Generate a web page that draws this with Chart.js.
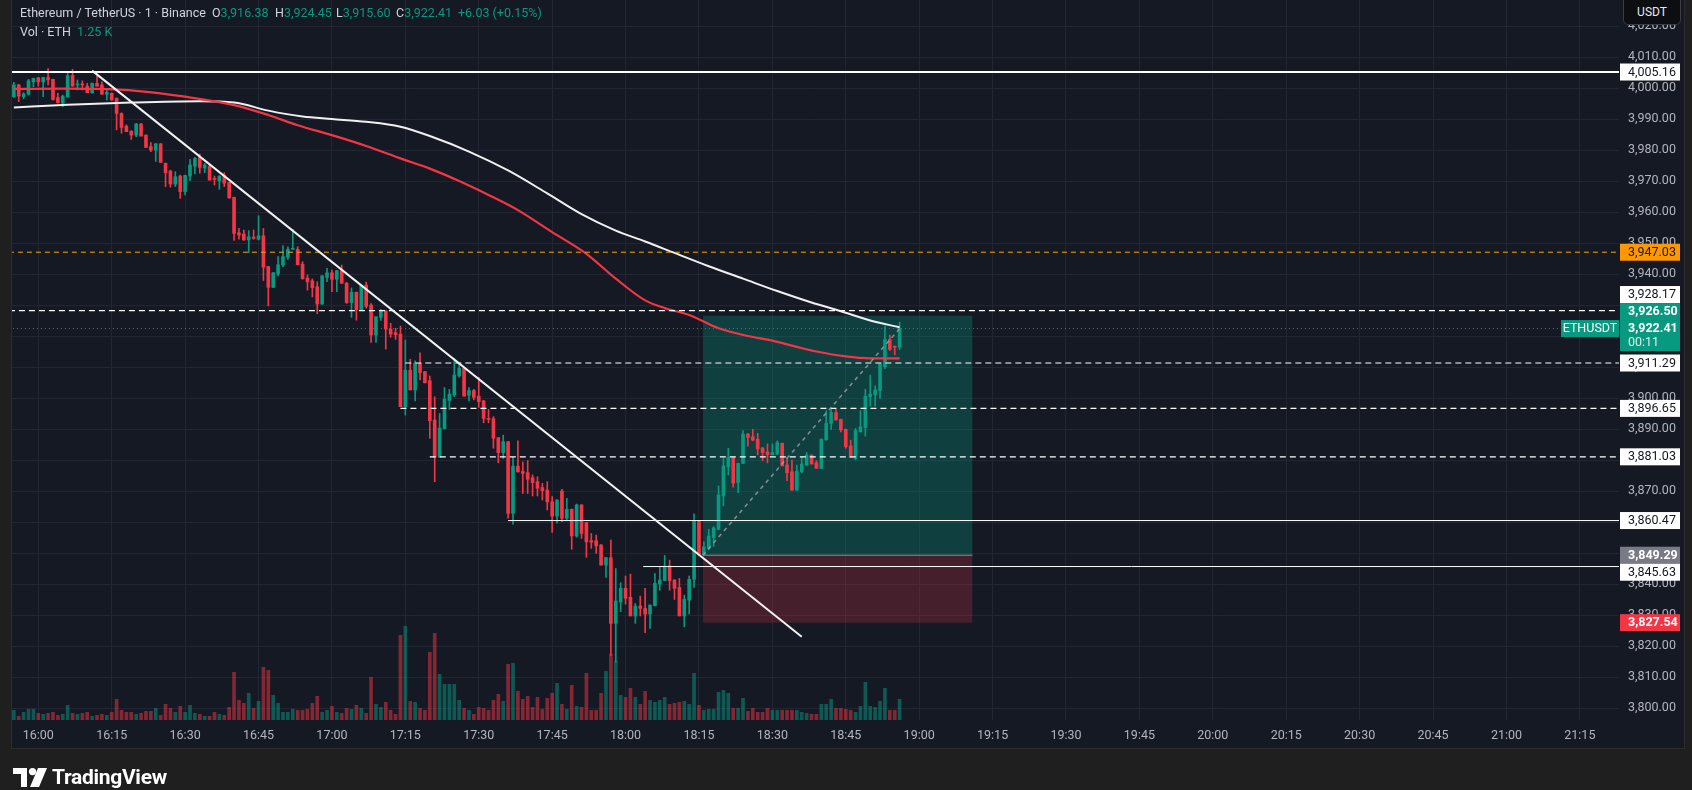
<!DOCTYPE html>
<html>
<head>
<meta charset="utf-8">
<title>ETHUSDT 1m</title>
<script src="https://cdn.jsdelivr.net/npm/chart.js@4.4.1/dist/chart.umd.min.js"></script>
<style>
  html, body { margin: 0; padding: 0; width: 1692px; height: 790px; overflow: hidden; background: #1f1f1f; font-family: Roboto, "Noto Sans", sans-serif; }
  #panel { position: absolute; left: 11px; top: 0; width: 1672px; height: 748px; background: #151924; border-left: 1px solid #2c2c2c; border-right: 1px solid #2c2c2c; border-bottom: 1px solid #2c2c2c; }
  #chart { position: absolute; left: 0; top: 0; }
  .hdr { position: absolute; font-size: 12.5px; color: #d1d4dc; white-space: nowrap; line-height: 16px; }
  .hdr b { font-weight: normal; color: #089981; }
  #usdt { position: absolute; left: 1623px; top: -1px; width: 56px; height: 24px; border: 1px solid #3a3d45; border-radius: 0 0 5px 5px; background: #0d0e11; color: #e8e9ed; font-size: 12px; line-height: 24px; text-align: center; }
  #logo { position: absolute; left: 13px; top: 765px; height: 24px; display: flex; align-items: center; gap: 5px; color: #fff; font-size: 21px; font-weight: bold; letter-spacing: -0.3px; }
</style>
</head>
<body>
<div id="panel"></div>
<canvas id="chart" width="1692" height="790"></canvas>
<div class="hdr" style="left:20px;top:5px">Ethereum / TetherUS · 1 · Binance</div>
<div class="hdr" id="hO" style="left:212px;top:5px"></div>
<div class="hdr" id="hH" style="left:275px;top:5px"></div>
<div class="hdr" id="hL" style="left:336px;top:5px"></div>
<div class="hdr" id="hC" style="left:396px;top:5px"></div>
<div class="hdr" id="hChg" style="left:458px;top:5px"></div>
<div class="hdr" style="left:20px;top:24px">Vol · ETH</div>
<div class="hdr" id="hVol" style="left:77px;top:24px"></div>
<div id="usdt">USDT</div>
<div id="logo">
  <svg width="34" height="19" viewBox="0 0 34 19"><path d="M0 0h14v19H8V6H0z" fill="#fff"/><circle cx="19.5" cy="3.6" r="3.6" fill="#fff"/><path d="M25 0h9l-8 19h-9z" fill="#fff"/></svg>
  <span>TradingView</span>
</div>
<script>
// time axis (minutes after 16:00) and price axis
const timeTicks = [0, 15, 30, 45, 60, 75, 90, 105, 120, 135, 150, 165, 180, 195, 210, 225, 240, 255, 270, 285, 300, 315];
const timeLabels = ['16:00', '16:15', '16:30', '16:45', '17:00', '17:15', '17:30', '17:45', '18:00', '18:15', '18:30', '18:45',
                    '19:00', '19:15', '19:30', '19:45', '20:00', '20:15', '20:30', '20:45', '21:00', '21:15'];
const priceTicks = [3800, 3810, 3820, 3830, 3840, 3850, 3860, 3870, 3880, 3890, 3900, 3910, 3920,
                    3930, 3940, 3950, 3960, 3970, 3980, 3990, 4000, 4010, 4020];

// 1 minute candles, first one at 15:55
const firstMinute = -5;
const opens = [
  3997.2,4001.0,3997.2,3998.0,4002.0,4003.3,4002.0,4003.4,4002.8,3996.9,
  3995.1,3997.2,4004.0,4001.0,4001.2,4000.6,3998.5,4001.5,4001.0,3998.0,
  3998.3,3996.7,3991.8,3987.7,3986.1,3984.8,3988.4,3984.8,3981.1,3980.0,
  3982.0,3975.7,3973.2,3969.0,3971.6,3966.6,3971.6,3974.8,3977.6,3974.2,
  3974.8,3970.8,3970.0,3971.9,3969.5,3964.7,3953.3,3952.9,3951.0,3951.9,
  3951.2,3952.3,3942.4,3935.7,3940.0,3942.9,3945.4,3948.0,3948.0,3943.2,
  3938.7,3937.8,3935.9,3930.3,3938.9,3940.4,3938.3,3941.1,3937.0,3930.8,
  3934.1,3928.5,3936.4,3930.0,3920.3,3926.0,3928.0,3922.2,3921.1,3920.6,
  3897.2,3909.0,3902.6,3911.2,3908.5,3905.6,3892.9,3880.9,3890.1,3899.2,
  3901.0,3907.1,3909.6,3900.9,3902.4,3900.6,3899.1,3893.4,3893.3,3887.2,
  3882.4,3885.9,3862.8,3878.0,3876.3,3875.9,3874.3,3873.0,3871.1,3870.3,
  3866.5,3861.9,3870.0,3861.2,3864.1,3855.5,3865.5,3859.8,3854.0,3854.0,
  3852.6,3846.1,3848.5,3827.3,3834.2,3838.6,3835.7,3829.7,3832.9,3832.1,
  3830.3,3833.0,3840.0,3841.1,3845.8,3841.3,3838.9,3829.7,3834.8,3841.5,
  3860.3,3849.4,3851.5,3855.0,3857.6,3868.4,3877.8,3880.8,3872.7,3878.9,
  3888.4,3887.5,3886.7,3883.9,3882.6,3881.7,3881.9,3885.4,3878.4,3876.2,
  3870.3,3876.2,3878.4,3881.6,3879.1,3877.3,3886.5,3891.8,3895.3,3893.1,
  3889.9,3884.5,3880.5,3889.1,3890.5,3900.4,3901.0,3902.4,3910.1,3918.9,
  3916.6,3916.38];
const highs = [
  4001.8,4001.2,3998.5,4002.8,4003.2,4003.4,4003.5,4006.3,4002.9,3998.3,
  3997.7,4004.7,4006.0,4002.6,4002.3,4001.5,4001.7,4003.9,4002.0,3999.6,
  3998.4,3996.8,3992.0,3988.1,3986.2,3988.6,3988.6,3984.9,3982.4,3982.1,
  3982.1,3975.8,3973.5,3973.0,3971.9,3971.9,3977.0,3977.6,3978.7,3975.7,
  3975.2,3971.6,3971.7,3972.7,3969.6,3964.8,3954.7,3954.2,3954.0,3954.2,
  3958.8,3954.7,3942.5,3940.5,3945.6,3949.2,3948.8,3954.4,3948.8,3944.0,
  3939.7,3938.4,3937.5,3939.5,3941.8,3941.3,3941.2,3942.9,3937.3,3935.5,
  3934.2,3936.4,3937.4,3930.5,3926.2,3928.6,3928.2,3924.1,3922.5,3923.2,
  3918.7,3912.5,3912.0,3914.6,3908.6,3907.1,3900.4,3895.0,3903.4,3902.8,
  3912.8,3911.2,3909.7,3903.4,3902.8,3906.7,3899.2,3896.3,3894.0,3887.3,
  3888.0,3886.0,3880.9,3886.2,3879.4,3879.8,3875.2,3874.6,3872.5,3873.0,
  3868.2,3867.2,3870.5,3867.6,3864.2,3865.8,3865.6,3859.9,3856.3,3855.8,
  3852.7,3848.6,3854.2,3845.0,3840.4,3842.6,3843.2,3833.7,3836.1,3838.6,
  3833.3,3843.4,3845.6,3849.2,3847.7,3841.4,3841.8,3836.4,3842.6,3862.6,
  3860.4,3853.6,3857.6,3858.5,3871.6,3880.5,3883.8,3880.9,3879.0,3889.5,
  3888.5,3889.9,3888.6,3884.0,3885.2,3885.2,3886.2,3885.5,3880.8,3880.0,
  3878.4,3880.8,3882.4,3881.7,3879.8,3886.8,3895.9,3896.3,3896.3,3893.2,
  3890.0,3886.4,3890.2,3895.9,3902.8,3907.4,3903.9,3911.0,3923.2,3920.3,
  3916.8,3924.45];
const lows = [
  3997.0,3995.6,3996.5,3997.7,4000.4,4000.6,3997.2,4001.0,3996.1,3995.1,
  3994.0,3997.0,4000.6,3999.4,3999.4,3998.5,3998.3,4000.6,3998.0,3996.1,
  3996.1,3986.5,3985.4,3985.9,3983.4,3984.3,3984.5,3980.8,3979.5,3976.3,
  3976.0,3968.2,3968.0,3968.2,3964.4,3965.5,3970.1,3972.3,3972.5,3972.7,
  3970.3,3968.7,3967.3,3968.2,3964.4,3950.8,3951.2,3950.8,3946.9,3951.2,
  3951.0,3937.9,3929.7,3935.6,3939.4,3942.4,3944.7,3947.9,3942.9,3938.3,
  3934.8,3932.6,3927.2,3930.2,3937.5,3934.3,3934.3,3937.0,3930.5,3926.0,
  3925.1,3928.4,3929.0,3917.9,3917.9,3925.0,3915.8,3919.6,3918.9,3897.2,
  3894.5,3902.6,3899.1,3905.8,3904.9,3887.0,3873.0,3880.8,3890.0,3896.3,
  3900.4,3906.7,3900.6,3899.1,3899.4,3897.0,3892.0,3892.0,3883.8,3879.1,
  3880.5,3861.2,3859.3,3876.1,3869.2,3869.2,3868.4,3868.4,3867.1,3863.9,
  3856.6,3859.6,3860.1,3860.6,3851.2,3855.1,3854.7,3848.6,3851.5,3849.9,
  3846.1,3842.1,3817.0,3814.8,3831.1,3833.5,3829.7,3827.3,3829.7,3824.3,
  3825.7,3832.9,3838.0,3841.0,3838.0,3835.0,3829.7,3826.2,3830.3,3838.9,
  3849.2,3849.2,3851.0,3852.1,3857.5,3865.2,3875.2,3871.2,3869.5,3878.8,
  3884.5,3886.2,3881.7,3879.8,3879.1,3881.6,3881.8,3878.1,3873.3,3870.3,
  3870.2,3875.9,3878.1,3878.7,3877.3,3877.2,3886.4,3889.9,3892.9,3889.1,
  3883.8,3880.8,3880.0,3889.0,3887.7,3897.4,3897.4,3899.9,3909.5,3915.3,
  3913.9,3915.60];
const closes = [
  4001.0,3997.4,3998.1,4002.3,4003.1,4002.0,4003.4,4002.6,3996.3,3995.3,
  3997.4,4004.0,4000.6,4001.2,4001.0,3998.5,4001.5,4000.6,3998.0,3998.6,
  3996.1,3991.8,3987.3,3985.9,3984.8,3988.4,3984.5,3980.8,3980.0,3982.0,
  3976.0,3972.7,3969.0,3971.4,3966.6,3971.8,3975.2,3977.3,3974.4,3975.2,
  3970.3,3970.5,3971.6,3969.3,3964.6,3953.1,3952.6,3951.0,3952.0,3951.5,
  3952.3,3942.2,3935.7,3940.4,3943.0,3945.6,3948.0,3948.2,3943.0,3938.5,
  3937.5,3935.6,3930.3,3939.4,3940.4,3938.3,3941.1,3937.0,3930.8,3934.1,
  3928.5,3936.4,3929.6,3920.3,3926.2,3928.1,3922.2,3920.6,3920.4,3897.2,
  3909.0,3902.6,3911.2,3908.2,3904.9,3892.7,3880.9,3890.3,3899.6,3901.3,
  3907.4,3909.6,3900.6,3902.4,3900.2,3898.8,3893.4,3893.1,3887.0,3882.4,
  3885.9,3862.8,3878.0,3876.2,3875.7,3873.8,3872.7,3870.9,3870.1,3866.5,
  3861.9,3867.1,3861.2,3864.1,3855.5,3865.5,3856.3,3853.6,3853.5,3852.3,
  3846.1,3848.5,3827.3,3834.5,3838.6,3835.4,3829.7,3832.9,3832.1,3830.3,
  3833.2,3840.2,3841.3,3845.8,3841.1,3838.6,3829.7,3835.1,3841.5,3860.3,
  3849.4,3852.0,3855.5,3858.1,3868.7,3878.1,3880.8,3872.5,3878.9,3888.4,
  3887.3,3886.4,3883.6,3882.4,3881.7,3882.4,3885.6,3878.1,3875.9,3870.3,
  3876.4,3878.7,3881.6,3878.7,3877.3,3886.7,3891.8,3895.3,3892.9,3889.7,
  3884.3,3880.8,3889.5,3890.7,3900.6,3901.3,3902.6,3911.0,3918.9,3915.7,
  3916.38,3922.41];
const volumes = [
  586,223,465,646,646,405,344,405,465,284,
  344,888,405,344,405,465,223,284,344,284,
  465,1250,586,465,465,344,405,525,525,707,
  284,948,707,465,827,465,888,405,344,223,
  223,465,344,284,767,2881,1190,1009,1613,707,
  1129,3183,3002,1492,1009,465,465,646,586,586,
  646,1009,1431,465,586,827,465,405,707,646,
  888,707,405,2579,948,767,1069,586,344,5116,
  5659,1129,1069,707,586,4089,5237,2760,2156,2156,
  2156,1190,707,586,344,767,707,586,1190,1552,
  1129,3364,3425,1733,1250,1431,767,1371,646,1311,
  1613,2217,948,646,2096,827,767,2821,586,586,
  1613,2941,3986,3564,1492,1371,1915,1371,948,1733,
  1190,1069,1190,1371,948,1009,1069,1129,948,2821,
  888,586,646,646,1673,1794,1613,707,707,1311,
  525,707,465,465,707,586,586,586,586,586,
  586,465,405,344,344,948,948,1250,707,707,
  646,586,465,827,2277,827,767,1129,1915,586,
  586,1250];

// moving averages
const maFastMin = [-5, 5, 12, 20, 30, 40, 47, 53, 60, 67, 74, 80, 86, 92, 98, 105, 112, 118, 124, 128, 133, 139, 145, 150, 155, 159, 165, 170, 176];
const maFastVal = [3999.7, 3999.8, 3999.7, 3999.1, 3997.2, 3994.5, 3991.3, 3988.0, 3984.8, 3981.3, 3977.3, 3974.0, 3970.0, 3965.5, 3960.6,
                   3953.5, 3946.5, 3938.5, 3931.5, 3929.0, 3926.8, 3922.5, 3920.0, 3918.5, 3916.5, 3915.0, 3913.4, 3912.8, 3912.8];
const maSlowMin = [-5, 6, 19, 33, 40, 47, 54, 60, 67, 74, 80, 88, 96, 104, 111, 118, 124, 130, 137, 144, 151, 158, 164, 170, 176];
const maSlowVal = [3993.7, 3994.6, 3995.3, 3995.7, 3995.3, 3992.7, 3990.8, 3990.0, 3989.1, 3987.5, 3984.5, 3979.5, 3973.4, 3966.0, 3959.3,
                   3954.0, 3950.5, 3946.8, 3942.5, 3938.5, 3934.5, 3930.8, 3928.0, 3925.0, 3922.8];

// drawings
const trendMin = [11, 156];
const trendVal = [4005.6, 3823.0];
const levelPrices = [4005.16, 3947.03, 3928.17, 3911.29, 3896.65, 3881.03, 3860.47, 3845.63];
const levelStart = [-6, -6, -6, 75, 74, 80, 96, 123.6];
const positionMin = [135.8, 190.9];
const entryPrice = 3849.29;
const targetPrice = 3926.50;
const stopPrice = 3827.54;
const countdown = '00:11';

// ---- styles ----
const upColor = '#089981';
const downColor = '#f23645';
const levelStyle = [
  { color: '#ffffff', width: 2, dash: [], tag: '#ffffff' },
  { color: '#f7a600', width: 1, dash: [5, 4], tag: '#ff9800' },
  { color: '#ffffff', width: 1.2, dash: [6, 4], tag: '#ffffff' },
  { color: '#ffffff', width: 1.2, dash: [6, 4], tag: '#ffffff' },
  { color: '#ffffff', width: 1.2, dash: [6, 4], tag: '#ffffff' },
  { color: '#ffffff', width: 1.2, dash: [6, 4], tag: '#ffffff' },
  { color: '#ffffff', width: 1, dash: [], tag: '#ffffff' },
  { color: '#ffffff', width: 1, dash: [], tag: '#ffffff' }
];

const fmt = v => v.toLocaleString('en-US', { minimumFractionDigits: 2, maximumFractionDigits: 2 });
const minutes = opens.map((_, i) => firstMinute + i);
const isUp = closes.map((c, i) => c >= opens[i]);
const lastClose = closes[closes.length - 1];
const xEnd = 330;

// header
const n = closes.length - 1;
document.getElementById('hO').innerHTML = 'O<b>' + fmt(opens[n]) + '</b>';
document.getElementById('hH').innerHTML = 'H<b>' + fmt(highs[n]) + '</b>';
document.getElementById('hL').innerHTML = 'L<b>' + fmt(lows[n]) + '</b>';
document.getElementById('hC').innerHTML = 'C<b>' + fmt(closes[n]) + '</b>';
const chg = closes[n] - closes[n - 1];
document.getElementById('hChg').innerHTML = '<b>' + (chg >= 0 ? '+' : '') + chg.toFixed(2) + ' (' + (chg >= 0 ? '+' : '') + (chg / closes[n - 1] * 100).toFixed(2) + '%)</b>';
document.getElementById('hVol').innerHTML = '<b>' + (volumes[n] / 1000).toFixed(2) + ' K</b>';

function lineSet(xs, ys, color, width, dash, order, extra) {
  return Object.assign({
    type: 'line',
    data: xs.map((x, i) => ({ x: x, y: ys[i] })),
    borderColor: color, borderWidth: width, borderDash: dash || [],
    pointRadius: 0, fill: false, order: order
  }, extra || {});
}

const datasets = [];

// volume
datasets.push({
  type: 'bar', yAxisID: 'vol', order: 100, grouped: false, barThickness: 3,
  data: minutes.map((m, i) => ({ x: m, y: volumes[i] })),
  backgroundColor: isUp.map(u => u ? 'rgba(8,153,129,0.5)' : 'rgba(242,54,69,0.5)')
});

// position box
datasets.push(lineSet(positionMin, [targetPrice, targetPrice], 'rgba(0,0,0,0)', 0, null, 95,
  { fill: { value: entryPrice }, backgroundColor: 'rgba(8,153,129,0.3)' }));
datasets.push(lineSet(positionMin, [stopPrice, stopPrice], 'rgba(0,0,0,0)', 0, null, 95,
  { fill: { value: entryPrice }, backgroundColor: 'rgba(242,54,69,0.22)' }));
datasets.push(lineSet(positionMin, [entryPrice, entryPrice], '#8d909a', 1, null, 94));

// candles
datasets.push({
  type: 'bar', order: 60, grouped: false, barThickness: 1,
  data: minutes.map((m, i) => ({ x: m, y: [lows[i], highs[i]] })),
  backgroundColor: isUp.map(u => u ? upColor : downColor)
});
datasets.push({
  type: 'bar', order: 55, grouped: false, barThickness: 3, minBarLength: 1,
  data: minutes.map((m, i) => ({ x: m, y: [opens[i], closes[i]] })),
  backgroundColor: isUp.map(u => u ? upColor : downColor)
});

// moving averages
datasets.push(lineSet(maSlowMin, maSlowVal, '#f0f0f0', 2, null, 42, { cubicInterpolationMode: 'monotone' }));
datasets.push(lineSet(maFastMin, maFastVal, '#f23645', 2.2, null, 40, { cubicInterpolationMode: 'monotone' }));

// horizontal levels
levelPrices.forEach((v, i) => {
  const s = levelStyle[i];
  datasets.push(lineSet([levelStart[i], xEnd], [v, v], s.color, s.width, s.dash, 30));
});
datasets.push(lineSet([-6, xEnd], [lastClose, lastClose], upColor, 1, [1, 3], 32));

// position path and trend line
datasets.push(lineSet([positionMin[0], minutes[n]], [entryPrice, lastClose], 'rgba(160,163,172,0.8)', 1.5, [4, 4], 25));
datasets.push(lineSet(trendMin, trendVal, '#f2f2f2', 2, null, 20));

// price tags on the right axis
const priceLabels = {
  id: 'priceLabels',
  afterDraw(c) {
    const g = c.ctx, ys = c.scales.y, right = c.chartArea.right;
    const items = levelPrices.map((v, i) => ({ v: v, bg: levelStyle[i].tag, fg: '#131722', bold: false, h: 17 }));
    items.push({ v: targetPrice, bg: upColor, fg: '#ffffff', bold: true, h: 17 });
    items.push({ v: entryPrice, bg: '#787b86', fg: '#ffffff', bold: true, h: 17 });
    items.push({ v: stopPrice, bg: downColor, fg: '#ffffff', bold: true, h: 17 });
    const last = { v: lastClose, bg: upColor, fg: '#ffffff', bold: true, h: 31, sub: countdown };
    items.push(last);
    items.forEach(it => { it.top = ys.getPixelForValue(it.v) - 8.5; });
    items.sort((a, b) => a.top - b.top);
    const k = items.indexOf(last);
    for (let i = k - 1; i >= 0; i--) {
      const lim = items[i + 1].top - items[i].h;
      if (items[i].top > lim) items[i].top = lim;
    }
    for (let i = k + 1; i < items.length; i++) {
      const lim = items[i - 1].top + items[i - 1].h;
      if (items[i].top < lim) items[i].top = lim;
    }
    g.save();
    g.textBaseline = 'middle';
    items.forEach(it => {
      g.fillStyle = it.bg;
      g.fillRect(right + 1, it.top, 60, it.h);
      g.fillStyle = it.fg;
      g.font = (it.bold ? 'bold ' : '') + '12.5px Roboto';
      g.textAlign = 'left';
      g.fillText(fmt(it.v), right + 9, it.top + 9);
      if (it.sub) {
        g.font = '12.5px Roboto';
        g.fillStyle = '#d8f0ea';
        g.fillText(it.sub, right + 9, it.top + 23);
      }
    });
    // symbol tag
    g.fillStyle = upColor;
    g.fillRect(right - 58, last.top, 58, 17);
    g.fillStyle = '#ffffff';
    g.font = '12.5px Roboto';
    g.textAlign = 'center';
    g.fillText('ETHUSDT', right - 29, last.top + 9);
    g.restore();
  }
};

Chart.defaults.font.family = 'Roboto';

// keep the plot area flush with the panel edges
function noPad(s) { s.paddingTop = 0; s.paddingBottom = 0; s.paddingLeft = 0; s.paddingRight = 0; }

new Chart(document.getElementById('chart'), {
  type: 'bar',
  data: { datasets: datasets },
  options: {
    responsive: false,
    animation: false,
    events: [],
    layout: { padding: { left: 12, right: 9, top: 0, bottom: 42 } },
    plugins: { legend: { display: false }, tooltip: { enabled: false } },
    scales: {
      x: {
        type: 'linear', min: -5.374, max: 323, offset: false,
        grid: { color: '#222632', drawTicks: false, offset: false },
        border: { display: false },
        afterBuildTicks: s => { s.ticks = timeTicks.map(v => ({ value: v })); },
        afterFit: s => { s.height = 28; noPad(s); },
        ticks: {
          color: '#b2b5be', font: { size: 12.5 }, padding: 8, maxRotation: 0, autoSkip: false,
          callback: v => timeLabels[timeTicks.indexOf(v)]
        }
      },
      y: {
        type: 'linear', position: 'right', min: 3796.13, max: 4028.39,
        grid: { color: '#222632', drawTicks: false },
        border: { display: false },
        afterBuildTicks: s => { s.ticks = priceTicks.map(v => ({ value: v })); },
        afterFit: s => { s.width = 64; noPad(s); },
        ticks: { color: '#b2b5be', font: { size: 12.5 }, padding: 9, callback: v => fmt(v) }
      },
      vol: { type: 'linear', axis: 'y', display: false, min: 0, max: 43500 }
    }
  },
  plugins: [priceLabels]
});
</script>
</body>
</html>
